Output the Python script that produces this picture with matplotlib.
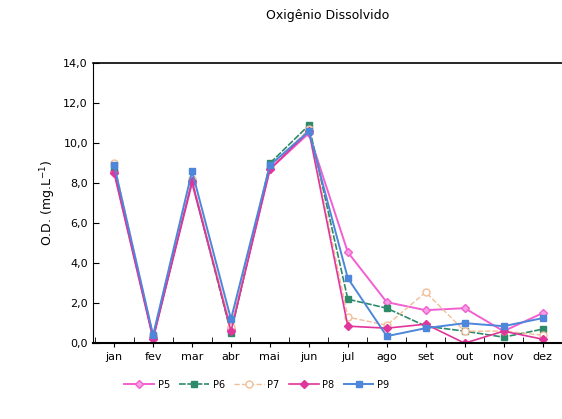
import matplotlib
matplotlib.use("Agg")
import matplotlib.pyplot as plt

months = ["jan", "fev", "mar", "abr", "mai", "jun", "jul", "ago", "set", "out", "nov", "dez"]
p5 = [8.6, 0.3, 8.0, 0.7, 8.7, 10.5, 4.55, 2.05, 1.65, 1.75, 0.6, 1.5]
p6 = [8.8, 0.3, 8.1, 0.5, 9.0, 10.9, 2.2, 1.75, 0.85, 0.6, 0.3, 0.7]
p7 = [9.0, 0.4, 8.2, 0.8, 8.8, 10.7, 1.3, 0.9, 2.55, 0.6, 0.6, 0.4]
p8 = [8.5, 0.2, 8.1, 0.6, 8.7, 10.6, 0.85, 0.75, 0.95, 0.0, 0.6, 0.2]
p9 = [8.9, 0.4, 8.6, 1.2, 8.9, 10.6, 3.25, 0.35, 0.75, 1.0, 0.85, 1.25]
yticks = [0, 2, 4, 6, 8, 10, 12, 14]

fig = plt.figure(figsize=(5.62, 4.19), dpi=100)
ax = fig.add_axes([0.165, 0.181, 0.835, 0.668])
x = list(range(len(months)))

ax.plot(x, p5, color="#F25FD0", marker="D", ms=4, lw=1.4, mfc="#F7A0E4", label="P5")
ax.plot(x, p6, color="#2E8B6A", marker="s", ms=4, lw=1.2, ls="--", dashes=(4, 1), label="P6")
ax.plot(x, p7, color="#F2BE96", marker="o", ms=5, lw=1.0, ls="--", mfc="white", label="P7")
ax.plot(x, p8, color="#E0359A", marker="D", ms=4, lw=1.2, ls="-", label="P8")
ax.plot(x, p9, color="#4D86DA", marker="s", ms=5, lw=1.4, label="P9")

ax.set_xlim(-0.55, 11.4)
ax.set_ylim(0, 14)
ax.set_xticks(x)
ax.set_xticklabels(months, fontsize=8)
ax.set_xticks([i + 0.5 for i in range(-1, 12)], minor=True)
ax.tick_params(axis="x", which="major", length=3, direction="out")
ax.tick_params(axis="x", which="minor", length=4, direction="in")
ax.set_yticks(yticks)
ax.set_yticklabels([f"{v:.1f}".replace(".", ",") for v in yticks], fontsize=8)
ax.tick_params(axis="y", length=4, direction="in")
ax.spines["right"].set_visible(False)
ax.spines["top"].set_linewidth(1.2)
ax.spines["bottom"].set_linewidth(1.5)
ax.set_ylabel("O.D. (mg.L$^{-1}$)", fontsize=9)
ax.set_title("Oxigênio Dissolvido", fontsize=9, pad=32)

ax.legend(loc="upper center", bbox_to_anchor=(0.35, -0.1), ncol=5, frameon=False,
          fontsize=7, handlelength=3, columnspacing=1.0, handletextpad=0.4)

fig.savefig("out.png", dpi=100)
